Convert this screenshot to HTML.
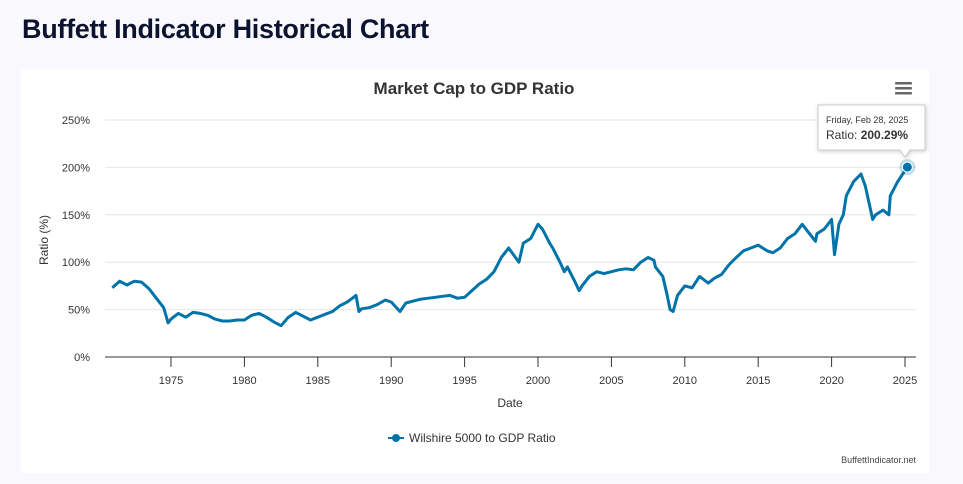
<!DOCTYPE html>
<html><head><meta charset="utf-8"><style>
body{margin:0;width:963px;height:484px;background:#f9f9fd;font-family:"Liberation Sans",sans-serif;overflow:hidden;position:relative}
h1{position:absolute;left:22px;top:14px;margin:0;font-size:27px;font-weight:bold;color:#0c1330;letter-spacing:-0.3px}
#card{position:absolute;left:21px;top:69px;width:908px;height:404px;background:#fff}
</style></head><body>
<h1>Buffett Indicator Historical Chart</h1>
<div id="card"></div>
<svg id="chart" width="963" height="484" style="position:absolute;left:0;top:0">
<text x="474" y="94" text-anchor="middle" font-size="17" font-weight="bold" fill="#333">Market Cap to GDP Ratio</text>
<g fill="#666"><rect x="895" y="82" width="17" height="2.5" rx="1"/><rect x="895" y="87" width="17" height="2.5" rx="1"/><rect x="895" y="92" width="17" height="2.5" rx="1"/></g>
<g id="grid"></g><g id="xaxis"></g><g id="series"></g>
<text transform="translate(48,240) rotate(-90)" text-anchor="middle" font-size="12" fill="#333">Ratio (%)</text>
<text x="510" y="407" text-anchor="middle" font-size="12" fill="#333">Date</text>
<g><line x1="388" y1="438" x2="404" y2="438" stroke="#0073a8" stroke-width="2"/><circle cx="396" cy="438" r="4" fill="#0073a8"/><text x="409" y="442" font-size="12" fill="#333">Wilshire 5000 to GDP Ratio</text></g>
<text x="916" y="463" text-anchor="end" font-size="9" fill="#444">BuffettIndicator.net</text>
<g id="tip"></g>
</svg>
<script>
const yTicks=[0,50,100,150,200,250];
const xTicks=[1975,1980,1985,1990,1995,2000,2005,2010,2015,2020,2025];
const years=[1971.0,1971.5,1972,1972.5,1973,1973.5,1974,1974.5,1974.8,1975,1975.5,1976,1976.5,1977,1977.5,1978,1978.5,1979,1979.5,1980,1980.5,1981,1981.5,1982,1982.5,1983,1983.5,1984,1984.5,1985,1985.5,1986,1986.5,1987,1987.6,1987.8,1988,1988.5,1989,1989.6,1990,1990.6,1991,1991.5,1992,1993,1993.5,1994,1994.5,1995,1995.5,1996,1996.5,1997,1997.5,1998,1998.7,1999,1999.5,2000,2000.3,2000.8,2001,2001.5,2001.8,2002,2002.5,2002.8,2003,2003.5,2004,2004.5,2005,2005.5,2006,2006.5,2007,2007.5,2007.9,2008,2008.5,2008.8,2009,2009.2,2009.5,2010,2010.5,2011,2011.6,2012,2012.5,2013,2013.5,2014,2014.5,2015,2015.6,2016,2016.5,2017,2017.5,2018,2018.9,2019,2019.5,2020,2020.2,2020.5,2020.8,2021,2021.5,2022,2022.3,2022.8,2023,2023.5,2023.9,2024,2024.5,2025.16];
const ratios=[73,80,76,80,79,72,62,52,36,40,46,42,47,46,44,40,38,38,39,39,44,46,42,37,33,42,47,43,39,42,45,48,54,58,65,48,51,52,55,60,58,48,57,59,61,63,64,65,62,63,70,77,82,90,105,115,100,120,125,140,135,120,115,100,90,95,80,70,75,85,90,88,90,92,93,92,100,105,102,95,85,65,50,48,65,75,73,85,78,83,87,97,105,112,115,118,112,110,115,125,130,140,122,130,135,145,108,140,150,170,185,193,180,145,150,155,150,170,185,200.29];
const X=yr=>171+(yr-1975)*14.68;
const Y=v=>357-v*0.948;
const ns='http://www.w3.org/2000/svg';
function mk(t,a,p){const e=document.createElementNS(ns,t);for(const k in a)e.setAttribute(k,a[k]);p.appendChild(e);return e;}
const grid=document.getElementById('grid');
yTicks.forEach(v=>{
 const l=mk('line',{x1:105,x2:916,y1:Y(v),y2:Y(v),stroke:v===0?'#333':'#e6e6e6','stroke-width':1},grid);
 
 
 const t=mk('text',{x:90,y:Y(v)+4,'text-anchor':'end','font-size':11,fill:'#333'},grid);
 t.textContent=v+'%';
 
 
});
const xa=document.getElementById('xaxis');
xTicks.forEach(yr=>{
 mk('line',{x1:X(yr),x2:X(yr),y1:357,y2:367,stroke:'#333'},xa);
 const t=mk('text',{x:X(yr),y:384,'text-anchor':'middle','font-size':11,fill:'#333'},xa);
 t.textContent=yr;
 
 
});
const s=document.getElementById('series');
const d=years.map((y,i)=>(i?'L':'M')+X(y).toFixed(1)+','+Y(ratios[i]).toFixed(1)).join('');
const p=mk('path',{d:d,fill:'none',stroke:'#0073a8','stroke-width':3,'stroke-linejoin':'round'},s);


const n=years.length-1,lx=X(years[n]),ly=Y(ratios[n]);
mk('circle',{cx:lx,cy:ly,r:8,fill:'#0073a8','fill-opacity':0.25},s);
const c=mk('circle',{cx:lx,cy:ly,r:5,fill:'#0073a8',stroke:'#fff','stroke-width':1},s);


const tip=document.getElementById('tip');
mk('path',{d:`M818,105 H925 V150 H910 L905,157 L900,150 H818 Z`,fill:'#fff',stroke:'#ccc','stroke-width':1,filter:'drop-shadow(1px 1px 2px rgba(0,0,0,0.2))'},tip);
const t1=mk('text',{x:826,y:123,'font-size':9,fill:'#333'},tip);t1.textContent='Friday, Feb 28, 2025';
const t2=mk('text',{x:826,y:139,'font-size':12,fill:'#333'},tip);t2.innerHTML='Ratio: <tspan font-weight="bold">'+ratios[n].toFixed(2)+'%</tspan>';
</script>
</body></html>
